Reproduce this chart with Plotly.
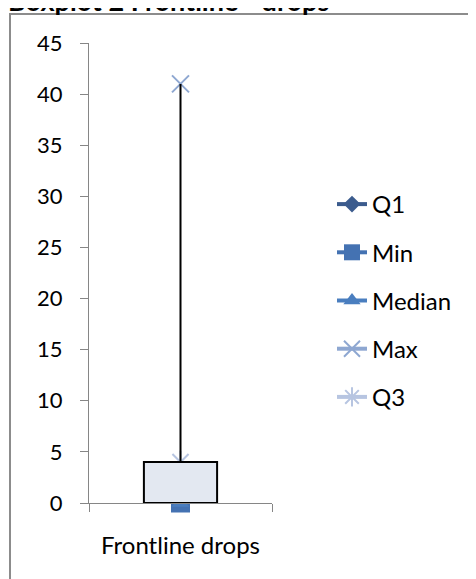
import plotly.graph_objects as go

categories = ["Frontline drops"]
q1 = [0]
min_v = [0]
median = [0]
max_v = [41]
q3 = [4]
y_ticks = [0, 5, 10, 15, 20, 25, 30, 35, 40, 45]

OFF = 8  # page body margin
W, H = 476 - OFF, 579 - OFF
L, T = 89 - OFF, 43 - OFF
R, B = W - (272 - OFF), H - (503 - OFF)
pw, ph = W - L - R, H - T - B

def px_x(p):  # page pixel -> paper
    return (p - OFF - L) / pw

def px_y(p):
    return (H - B - (p - OFF)) / ph

FONT = "Lato"
AX = "#868686"

fig = go.Figure()

series = [
    ("Q1", q1, "diamond", "#3b5b8d", 13, 0),
    ("Min", min_v, "square", "#4472b2", 19, 0),
    ("Median", median, "triangle-up", "#4a7ebf", 15, 0),
    ("Max", max_v, "x-thin-open", "#8ea7d1", 17, 2),
    ("Q3", q3, "asterisk-open", "#b7c5e1", 19, 2),
]
for i, (name, vals, sym, col, sz, lw) in enumerate(series):
    fig.add_trace(go.Scatter(
        x=categories, y=vals, name=name, mode="lines+markers",
        line=dict(color=col, width=4),
        marker=dict(symbol=sym, size=sz, color=col,
                    line=dict(color=col, width=lw)),
        legendgroup=name, cliponaxis=False,
        xaxis="x", yaxis="y",
    ))

box_h = [b - a for a, b in zip(q1, q3)]
fig.add_trace(go.Bar(
    x=categories, y=box_h, base=q1, width=0.4,
    marker=dict(color="#e3e8f1", line=dict(color="black", width=2)),
    error_y=dict(type="data", symmetric=False,
                 array=[m - q for m, q in zip(max_v, q3)],
                 arrayminus=[a - m for a, m in zip(q1, min_v)],
                 color="black", thickness=2, width=0),
    showlegend=False, xaxis="x2", yaxis="y2",
))

fig.update_layout(
    width=W, height=H,
    margin=dict(l=L, r=R, t=T, b=B, autoexpand=False),
    paper_bgcolor="white", plot_bgcolor="white",
    font=dict(family=FONT, size=20, color="black"),
    showlegend=True,
    legend=dict(x=px_x(332), y=px_y(182), xanchor="left", yanchor="top",
                font=dict(size=24, family=FONT), tracegroupgap=14,
                bgcolor="rgba(0,0,0,0)"),
    xaxis=dict(type="category", range=[-0.5, 0.5], showline=True,
               linecolor=AX, linewidth=1.3, ticks="outside", tickson="boundaries",
               ticklen=8, tickcolor=AX, tickwidth=1.3, showgrid=False,
               tickfont=dict(size=24), ticklabelstandoff=21),
    yaxis=dict(range=[0, 45], tickvals=y_ticks, showline=True,
               linecolor=AX, linewidth=1.3, ticks="outside", ticklen=8,
               tickcolor=AX, tickwidth=1.3, showgrid=False, zeroline=False,
               tickfont=dict(size=22), ticklabelstandoff=13),
    xaxis2=dict(type="category", range=[-0.5, 0.5], overlaying="x",
                visible=False),
    yaxis2=dict(range=[0, 45], overlaying="y", visible=False),
    shapes=[dict(type="rect", xref="paper", yref="paper",
                 x0=px_x(10), x1=px_x(490), y0=px_y(600), y1=px_y(14),
                 line=dict(color="#8c8c8c", width=2), fillcolor="rgba(0,0,0,0)",
                 layer="below")],
    annotations=[dict(text="<b>Boxplot 2 Frontline - drops</b>", xref="paper",
                      yref="paper", x=px_x(6), y=px_y(19), xanchor="left",
                      yanchor="bottom", showarrow=False,
                      font=dict(size=27, family=FONT))],
)

fig.write_html("out.html")
